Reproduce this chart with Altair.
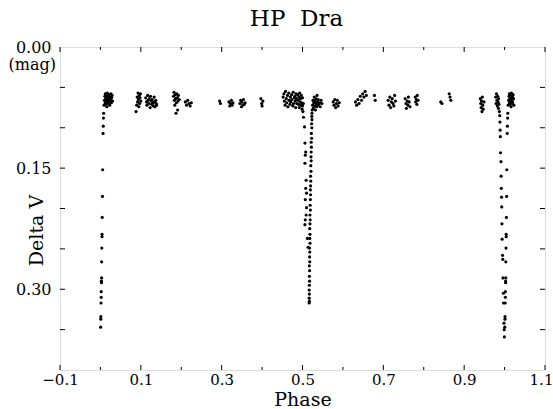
import altair as alt
import pandas as pd

# ---- out-of-eclipse observations (phase, Delta V in mag) ----
base_phase = [
    # run near phase 0.0-0.03
    0.009, 0.010, 0.011, 0.012, 0.012, 0.013, 0.014, 0.014, 0.015, 0.016, 0.016, 0.017, 0.018,
    0.019, 0.019, 0.020, 0.021, 0.022, 0.023, 0.024, 0.025, 0.026, 0.027, 0.028, 0.029, 0.030,
    # 0.09-0.10
    0.088, 0.090, 0.091, 0.092, 0.093, 0.094, 0.095, 0.096, 0.097, 0.098, 0.099, 0.100,
    # 0.11-0.14
    0.112, 0.114, 0.115, 0.117, 0.118, 0.120, 0.121, 0.123, 0.124, 0.126, 0.127, 0.128, 0.130,
    0.131, 0.133, 0.134, 0.135, 0.137, 0.138, 0.139,
    # 0.18-0.20
    0.181, 0.182, 0.183, 0.184, 0.185, 0.186, 0.187, 0.188, 0.189, 0.190, 0.191, 0.192, 0.193, 0.195,
    # 0.21-0.23
    0.210, 0.213, 0.216, 0.219, 0.222, 0.225,
    # 0.30-0.40
    0.295, 0.297,
    0.318, 0.320, 0.322, 0.324, 0.326, 0.328,
    0.345, 0.347, 0.349, 0.350, 0.352, 0.354, 0.356, 0.358,
    0.397, 0.399, 0.400, 0.402,
    # 0.45-0.50
    0.452, 0.454, 0.455, 0.457, 0.458, 0.460, 0.461, 0.463, 0.464, 0.466, 0.467, 0.469, 0.470,
    0.471, 0.473, 0.474, 0.476, 0.477, 0.478, 0.480, 0.481, 0.482, 0.483, 0.484, 0.485, 0.486,
    0.488, 0.489, 0.490, 0.491, 0.492, 0.493, 0.494, 0.495, 0.496, 0.497, 0.498, 0.499, 0.500,
    0.500, 0.501, 0.502,
    # 0.52-0.55
    0.525, 0.526, 0.527, 0.528, 0.529, 0.530, 0.531, 0.532, 0.533, 0.534, 0.535, 0.536, 0.537,
    0.538, 0.539, 0.540, 0.542, 0.544, 0.546, 0.548,
    # 0.57-0.68
    0.576, 0.578, 0.580, 0.582, 0.584, 0.586, 0.588, 0.591,
    0.631, 0.634, 0.637, 0.640, 0.643, 0.646, 0.649, 0.652, 0.655, 0.658,
    0.678, 0.680,
    # 0.71-0.87
    0.712, 0.714, 0.716, 0.718, 0.720, 0.722, 0.724, 0.726, 0.728, 0.730,
    0.754, 0.756, 0.757, 0.759, 0.761, 0.762, 0.764, 0.766,
    0.779, 0.780, 0.782, 0.783, 0.784, 0.786,
    0.842, 0.845,
    0.863, 0.865, 0.867,
    # 0.94-0.99
    0.940, 0.941, 0.942, 0.943, 0.944, 0.945, 0.946, 0.947, 0.949,
    0.978, 0.979, 0.980, 0.981, 0.982, 0.983, 0.984, 0.985, 0.985, 0.986, 0.987, 0.988,
]
base_mag = [
    0.072, 0.066, 0.061, 0.069, 0.058, 0.064, 0.071, 0.060, 0.067, 0.063, 0.074, 0.057, 0.065,
    0.070, 0.061, 0.068, 0.059, 0.064, 0.072, 0.062, 0.066, 0.058, 0.069, 0.063, 0.060, 0.067,
    0.080, 0.072, 0.062, 0.068, 0.057, 0.065, 0.074, 0.060, 0.070, 0.063, 0.058, 0.067,
    0.063, 0.068, 0.072, 0.060, 0.066, 0.070, 0.064, 0.075, 0.061, 0.067, 0.071, 0.065, 0.069,
    0.073, 0.062, 0.068, 0.074, 0.066, 0.070, 0.072,
    0.061, 0.056, 0.066, 0.072, 0.059, 0.064, 0.082, 0.069, 0.058, 0.063, 0.078, 0.067, 0.060, 0.065,
    0.068, 0.072, 0.066, 0.070, 0.073, 0.069,
    0.067, 0.070,
    0.068, 0.073, 0.070, 0.066, 0.072, 0.069,
    0.070, 0.066, 0.074, 0.068, 0.072, 0.065, 0.071, 0.069,
    0.064, 0.070, 0.073, 0.067,
    0.062, 0.058, 0.067, 0.072, 0.055, 0.064, 0.069, 0.060, 0.074, 0.057, 0.066, 0.071, 0.062,
    0.068, 0.059, 0.065, 0.073, 0.056, 0.070, 0.063, 0.061, 0.067, 0.075, 0.058, 0.064, 0.070,
    0.059, 0.066, 0.071, 0.062, 0.075, 0.057, 0.068, 0.064, 0.072, 0.060, 0.069, 0.077, 0.063,
    0.073, 0.080, 0.070,
    0.072, 0.066, 0.076, 0.069, 0.062, 0.073, 0.067, 0.078, 0.064, 0.070, 0.074, 0.060, 0.068,
    0.072, 0.065, 0.071, 0.069, 0.074, 0.066, 0.070,
    0.068, 0.072, 0.065, 0.075, 0.070, 0.066, 0.073, 0.069,
    0.068, 0.072, 0.065, 0.070, 0.061, 0.066, 0.058, 0.062, 0.055, 0.060,
    0.060, 0.066,
    0.066, 0.072, 0.062, 0.075, 0.068, 0.064, 0.070, 0.073, 0.060, 0.067,
    0.064, 0.070, 0.076, 0.067, 0.072, 0.062, 0.068, 0.074,
    0.062, 0.068, 0.065, 0.071, 0.060, 0.066,
    0.068, 0.070,
    0.058, 0.062, 0.066,
    0.064, 0.070, 0.075, 0.067, 0.080, 0.062, 0.072, 0.077, 0.068,
    0.062, 0.070, 0.058, 0.066, 0.073, 0.061, 0.068, 0.076, 0.064, 0.071, 0.080, 0.085,
]

# ---- primary eclipse, egress just after phase 0 ----
pri_egress_phase = [0.008, 0.0075, 0.007, 0.0065, 0.0055, 0.005, 0.0045, 0.004, 0.004, 0.0035,
                    0.003, 0.003, 0.0025, 0.0025, 0.002, 0.002, 0.0015, 0.001, 0.001, 0.0005]
pri_egress_mag = [0.082, 0.088, 0.098, 0.107, 0.152, 0.185, 0.211, 0.232, 0.235, 0.249,
                  0.266, 0.286, 0.290, 0.292, 0.303, 0.310, 0.317, 0.334, 0.337, 0.347]

# ---- primary eclipse, ingress just before phase 1 ----
pri_ingress_phase = [0.9885, 0.989, 0.9895, 0.990, 0.991, 0.9915, 0.992, 0.9925, 0.993, 0.9935,
                     0.994, 0.995, 0.9955, 0.996, 0.997, 0.9975, 0.9985, 0.999, 0.9995]
pri_ingress_mag = [0.093, 0.103, 0.111, 0.131, 0.142, 0.160, 0.175, 0.186, 0.198, 0.219,
                   0.238, 0.258, 0.263, 0.286, 0.305, 0.317, 0.342, 0.350, 0.359]

# ---- secondary eclipse ----
sec_ingress_phase = [0.5025, 0.505, 0.506, 0.508, 0.507, 0.506, 0.509, 0.508, 0.510, 0.507,
                     0.510, 0.509, 0.507, 0.506, 0.512, 0.514]
sec_ingress_mag = [0.087, 0.099, 0.119, 0.130, 0.134, 0.144, 0.165, 0.175, 0.181, 0.189,
                   0.199, 0.208, 0.214, 0.220, 0.237, 0.248]
sec_egress_phase = [0.5240, 0.5235, 0.5230, 0.5235, 0.5225, 0.5230, 0.5220, 0.5225, 0.5215, 0.5220,
                    0.5215, 0.5210, 0.5215, 0.5205, 0.5210, 0.5200, 0.5205, 0.5200, 0.5195, 0.5200,
                    0.5195, 0.5190, 0.5195, 0.5185, 0.5190, 0.5185, 0.5180, 0.5185, 0.5180, 0.5185,
                    0.5175, 0.5180, 0.5175, 0.5180, 0.5170, 0.5175, 0.5170, 0.5175, 0.5170, 0.5165,
                    0.5170, 0.5165, 0.5170, 0.5165]
sec_egress_mag = [0.078, 0.082, 0.086, 0.090, 0.095, 0.100, 0.107, 0.113, 0.118, 0.124,
                  0.130, 0.136, 0.141, 0.147, 0.154, 0.160, 0.166, 0.172, 0.177, 0.183,
                  0.189, 0.196, 0.202, 0.208, 0.214, 0.219, 0.225, 0.232, 0.237, 0.243,
                  0.249, 0.254, 0.260, 0.266, 0.271, 0.277, 0.284, 0.290, 0.295, 0.301,
                  0.306, 0.311, 0.315, 0.317]

# ---- axis ticks / labels ----
x_major = [-0.1, 0.1, 0.3, 0.5, 0.7, 0.9, 1.1]
x_minor = [0.0, 0.2, 0.4, 0.6, 0.8, 1.0]
y_ticks = [0.05, 0.10, 0.15, 0.20, 0.25, 0.30, 0.35]
y_labels = [0.00, 0.15, 0.30]
WRAP_LIMIT = 0.024  # points repeated one cycle later

phase = base_phase + pri_egress_phase + pri_ingress_phase + sec_ingress_phase + sec_egress_phase
mag = base_mag + pri_egress_mag + pri_ingress_mag + sec_ingress_mag + sec_egress_mag
df = pd.DataFrame({"phase": phase, "mag": mag})
wrapped = df[df["phase"] < WRAP_LIMIT].copy()
wrapped["phase"] = wrapped["phase"] + 1.0
df = pd.concat([df, wrapped], ignore_index=True)

FONT = "DejaVu Serif"
W, H = 485, 323
xs = alt.Scale(domain=[-0.1, 1.1], nice=False, zero=False)
ys = alt.Scale(domain=[0.0, 0.4], reverse=True, nice=False, zero=False)

x_axis = alt.Axis(
    values=x_major, format=".1f", title="Phase", ticks=False, tickSize=0, domain=False,
    grid=False, labelFlush=False, labelPadding=2, labelFont=FONT, labelFontSize=15,
    labelOffset={"expr": "datum.value > 1.05 ? -4 : 0"},
    labelColor="black", titleFont=FONT, titleFontSize=19, titleFontWeight="normal",
    titleColor="black", titleBaseline="alphabetic", titleY=35)
y_axis = alt.Axis(
    values=y_labels, format=".2f", title="Delta  V", ticks=False, tickSize=0, domain=False,
    grid=False, labelFlush=False, labelPadding=9, labelFont=FONT, labelFontSize=16,
    labelColor="black", titleFont=FONT, titleFontSize=19, titleFontWeight="normal",
    titleColor="black", titleBaseline="alphabetic", titleX=-18, titleY=183)

points = alt.Chart(df).mark_circle(size=10, color="black", opacity=1).encode(
    x=alt.X("phase:Q", scale=xs, axis=x_axis),
    y=alt.Y("mag:Q", scale=ys, axis=y_axis),
)

def xtick(vals, y0, y1):
    return alt.Chart(pd.DataFrame({"phase": vals})).mark_rule(color="black", strokeWidth=1).encode(
        x=alt.X("phase:Q", scale=xs, axis=x_axis), y=alt.value(y0), y2=alt.value(y1))

def ytick(vals, x0, x1):
    return alt.Chart(pd.DataFrame({"mag": vals})).mark_rule(color="black", strokeWidth=1).encode(
        y=alt.Y("mag:Q", scale=ys, axis=y_axis), x=alt.value(x0), x2=alt.value(x1))

ticks = [
    xtick(x_major, H, H - 5), xtick(x_minor, H, H - 3),
    xtick(x_major, 0, 5), xtick(x_minor, 0, 3),
    ytick(y_ticks, 0, 5), ytick(y_ticks, W, W - 5),
]

unit = alt.Chart(pd.DataFrame({"mag": [0.0], "t": ["(mag)"]})).mark_text(
    align="right", baseline="middle", dy=18, font=FONT, fontSize=16, color="black"
).encode(y=alt.Y("mag:Q", scale=ys, axis=y_axis), x=alt.value(-4), text="t:N")

title = alt.Chart(pd.DataFrame({"t": ["HP\u00a0\u00a0Dra"]})).mark_text(
    align="center", baseline="alphabetic", font=FONT, fontSize=23, color="black"
).encode(x=alt.value(W / 2 - 6), y=alt.value(-21), text="t:N")

chart = alt.layer(points, *ticks, unit, title).properties(
    width=W, height=H,
    autosize=alt.AutoSizeParams(type="none"),
    padding={"left": 60, "top": 47, "right": 8, "bottom": 39},
).configure_view(stroke="black", strokeWidth=1).configure(background="white")

chart.save("out.html", embed_options={"renderer": "svg", "actions": False})
